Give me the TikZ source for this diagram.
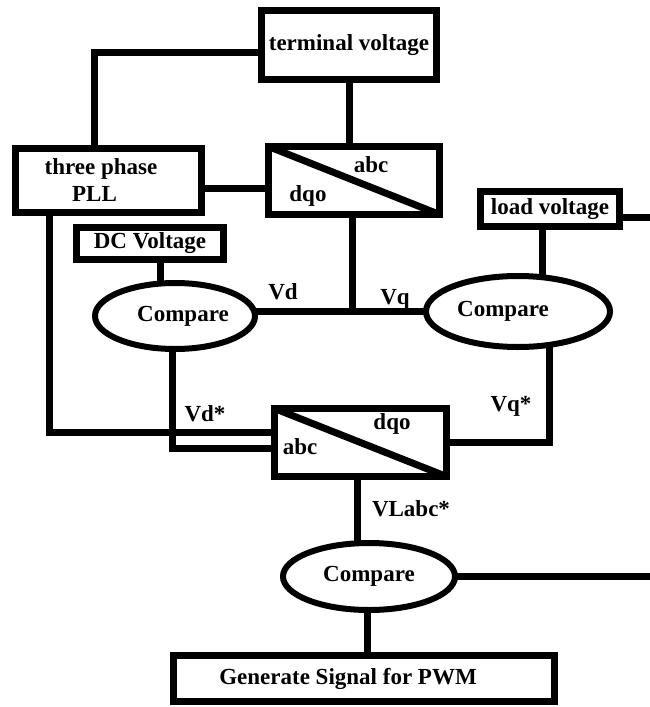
\documentclass[tikz,border=0pt]{standalone}
\usepackage{fontspec}
\setmainfont{Liberation Serif}
\usetikzlibrary{shapes.geometric}
\begin{document}
\begin{tikzpicture}[x=1pt,y=-1pt,
  every node/.style={font=\fontsize{23}{27}\selectfont\bfseries, inner sep=0pt, outer sep=0pt},
  box/.style={draw, rectangle, line width=7pt, line join=miter},
  oval/.style={draw, ellipse, line width=6pt},
  wire/.style={line width=7pt, line join=miter},
  lbl/.style={anchor=center}
]
\fill[white] (0,0) rectangle (650,707);
\useasboundingbox (0,0) rectangle (650,707);

% boxes
\node[box, minimum width=175pt, minimum height=69pt] (term) at (349,45) {terminal voltage};
\node[box, minimum width=186pt, minimum height=64pt, align=center] (pll) at (108.5,180.5)
  {three phase\rule{15pt}{0pt}\\PLL\rule{28pt}{0pt}};
\node[box, minimum width=171pt, minimum height=68pt] (b1) at (354,180.5) {};
\node[box, minimum width=139pt, minimum height=35pt] (load) at (550,209) {load voltage};
\node[box, minimum width=147pt, minimum height=32pt] (dc) at (150,243.5) {DC Voltage};
\node[box, minimum width=172pt, minimum height=68pt] (b2) at (360.5,442.5) {};
\node[box, minimum width=381pt, minimum height=46pt] (pwm) at (364,678.5) {Generate Signal for PWM\rule{32pt}{0pt}};

% ellipses
\node[oval, minimum width=160pt, minimum height=66pt] (lc) at (175,316) {\rule{16pt}{0pt}Compare};
\node[oval, minimum width=184pt, minimum height=71pt] (rc) at (518,311.5) {Compare\rule{30pt}{0pt}};
\node[oval, minimum width=172pt, minimum height=67pt] (bc) at (369,576.5) {Compare};

% diagonals in converter boxes
\draw[line width=7pt] (b1.north west) -- (b1.south east);
\draw[line width=7pt] (b2.north west) -- (b2.south east);

% labels
\node[lbl] (abc1) at (371,165) {abc};
\node[lbl] (dqo1) at (308,196) {dqo};
\node[lbl] (dqo2) at (392,424) {dqo};
\node[lbl] (abc2) at (300,447) {abc};
\node[lbl] (vd) at (283,292) {Vd};
\node[lbl] (vq) at (395,299) {Vq};
\node[lbl] (vds) at (205,414) {Vd*};
\node[lbl] (vqs) at (511,406) {Vq*};
\node[lbl] (vlabc) at (411,509) {VLabc*};

% helper coordinates
\coordinate (edge) at (650,0);
\coordinate (k1) at (94,52);
\coordinate (k2) at (235,188);
\coordinate (jn) at (352,311.5);
\coordinate (k3) at (160,0);
\coordinate (k10) at (542,0);
\coordinate (k4) at (49,432);
\coordinate (k5) at (172,448);
\coordinate (k6) at (549,442);
\coordinate (k7) at (357,0);
\coordinate (k8) at (640,217);
\coordinate (k9) at (367,0);

% connectors
\draw[wire] (k1 -| term.west) -- (k1) -- (k1 |- pll.north);
\draw[wire] (term.south) -- (term.south |- b1.north);
\draw[wire] (k2 -| pll.east) -- (k2 -| b1.west);
\draw[wire] (jn |- b1.south) -- (jn);
\draw[wire] (lc.east |- rc.west) -- (rc.west);
\draw[wire] (k3 |- dc.south) -- (k3 |- lc.north);
\draw[wire] (k10 |- load.south) -- (k10 |- rc.north);
\draw[wire] (k8 -| load.east) -- (k8 -| edge);
\draw[wire] (k4 |- pll.south) -- (k4) -- (k4 -| b2.west);
\draw[wire] (k5 |- lc.south) -- (k5) -- (k5 -| b2.west);
\draw[wire] (k6 |- rc.south) -- (k6) -- (k6 -| b2.east);
\draw[wire] (k7 |- b2.south) -- (k7 |- bc.north);
\draw[wire] (bc.east) -- (bc.east -| edge);
\draw[wire] (k9 |- bc.south) -- (k9 |- pwm.north);
\end{tikzpicture}
\end{document}
